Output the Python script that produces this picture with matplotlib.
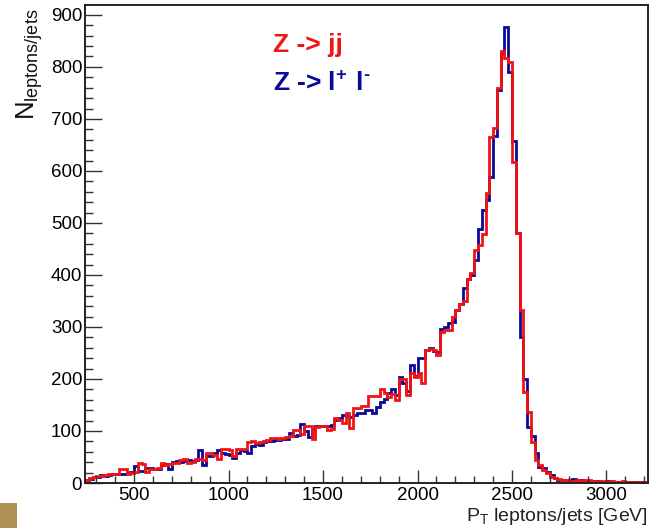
import numpy as np
import matplotlib
matplotlib.use("Agg")
import matplotlib.pyplot as plt
from matplotlib.ticker import MultipleLocator
from matplotlib.patches import Rectangle

plt.rcParams['font.family'] = ['Liberation Sans', 'DejaVu Sans']
plt.rcParams['mathtext.default'] = 'regular'

# ---- data: 20 GeV bins starting at 240 GeV ----
bin_start = 240
bin_width = 20

z_jj = [5, 9, 11, 13, 14, 16, 17, 18, 17, 26, 26, 18, 20, 22, 38, 37, 22, 26, 27, 28,
        39, 34, 36, 38, 39, 45, 46, 38, 40, 47, 46, 44, 57, 57, 54, 47, 66, 66, 64, 51,
        66, 65, 66, 79,
        80, 76, 78, 80, 82, 87, 87, 84, 86, 88, 90, 102, 102, 95, 110, 110, 85, 108, 109,
        109, 102, 104, 125, 121, 115, 134, 105, 144, 144, 149, 149, 167, 167, 167, 180,
        173, 165, 172, 160, 200, 200, 170, 211, 204,
        212, 192, 255, 258, 256, 246, 290, 295, 294, 320, 333, 345, 349, 392, 404, 448,
        458, 478, 557, 665, 682, 759, 830, 818, 809, 618, 481, 333, 175, 137, 79, 44,
        35, 25, 19, 12, 9, 7,
        6, 5, 4, 4, 5, 4, 5, 5, 3, 2, 3, 3, 2, 3, 2, 2, 3, 2, 2, 2, 1, 2, 2, 2]

z_ll = [6, 8, 12, 12, 15, 14, 16, 17, 18, 17, 18, 20, 22, 32, 23, 24, 28, 28, 26, 27,
        34, 36, 26, 41, 42, 41, 42, 44, 43, 45, 64, 34, 51, 52, 57, 63, 58, 56, 54, 48,
        57, 64, 62, 58,
        72, 75, 74, 78, 80, 80, 83, 83, 84, 84, 97, 91, 92, 114, 100, 88, 104, 110, 110,
        110, 110, 112, 122, 125, 131, 128, 127, 130, 134, 135, 140, 140, 134, 147, 156,
        162, 173, 180, 170, 204, 192, 176, 227, 206,
        240, 240, 255, 260, 254, 252, 296, 300, 307, 310, 333, 345, 375, 392, 400, 429,
        488, 525, 544, 589, 668, 755, 825, 877, 790, 658, 481, 281, 200, 108, 91, 58,
        31, 28, 22, 15, 10, 6,
        5, 4, 6, 7, 6, 6, 3, 3, 3, 3, 2, 2, 3, 2, 2, 1, 2, 2, 1, 2, 2, 1, 1, 1]

x_ticks = [500, 1000, 1500, 2000, 2500, 3000]
y_ticks = [0, 100, 200, 300, 400, 500, 600, 700, 800, 900]

RED = '#f01414'
BLUE = '#0a0a96'

edges_jj = bin_start + bin_width * np.arange(len(z_jj) + 1)
edges_ll = bin_start + bin_width * np.arange(len(z_ll) + 1)

fig = plt.figure(figsize=(6.5, 5.28), dpi=100)
ax = fig.add_axes([85 / 650, 45 / 528, 563 / 650, 478 / 528])

ax.stairs(z_ll, edges_ll, color=BLUE, linewidth=2.0)
ax.stairs(z_jj, edges_jj, color=RED, linewidth=2.0)

ax.set_xlim(240, 3220)
ax.set_ylim(0, 919)
ax.set_xticks(x_ticks)
ax.set_yticks(y_ticks)
ax.xaxis.set_minor_locator(MultipleLocator(100))
ax.yaxis.set_minor_locator(MultipleLocator(20))

for s in ax.spines.values():
    s.set_linewidth(1.4)
    s.set_color('#222222')

ax.tick_params(axis='x', which='major', direction='in', length=9.5, width=1.0,
               labelsize=13.5, pad=3, color='#333333', top=False)
ax.tick_params(axis='x', which='minor', direction='in', length=4.8, width=1.0,
               color='#333333', top=False)
ax.tick_params(axis='y', which='major', direction='in', length=12, width=1.0,
               labelsize=13.5, pad=2, color='#333333', right=False)
ax.tick_params(axis='y', which='minor', direction='in', length=6, width=1.0,
               color='#333333', right=False)

# axis titles
fig.text(648 / 650, 1 - 521 / 528, r'$\mathregular{P_{T}}$ leptons/jets [GeV]',
         ha='right', va='baseline', fontsize=14, color='#222222')
fig.text(30 / 650, 1 - 9 / 528, r'$\mathregular{N_{leptons/jets}}$',
         rotation=90, ha='center', va='top', fontsize=18.5, color='#111111')

# legend-like labels
fig.text(273 / 650, 1 - 52 / 528, 'Z -> jj', color=RED, fontsize=19,
         fontweight='bold', ha='left', va='baseline')
fig.text(273 / 650, 1 - 91 / 528, 'Z -> $\\mathregular{l^{+}\\ l^{\u2010}}$', color=BLUE,
         fontsize=19, fontweight='bold', ha='left', va='baseline')

# slide decoration in the corner
fig.patches.append(Rectangle((0, 0), 17 / 650, 25 / 528, transform=fig.transFigure,
                             facecolor='#b09055', edgecolor='none'))

fig.savefig('out.png', dpi=100)
